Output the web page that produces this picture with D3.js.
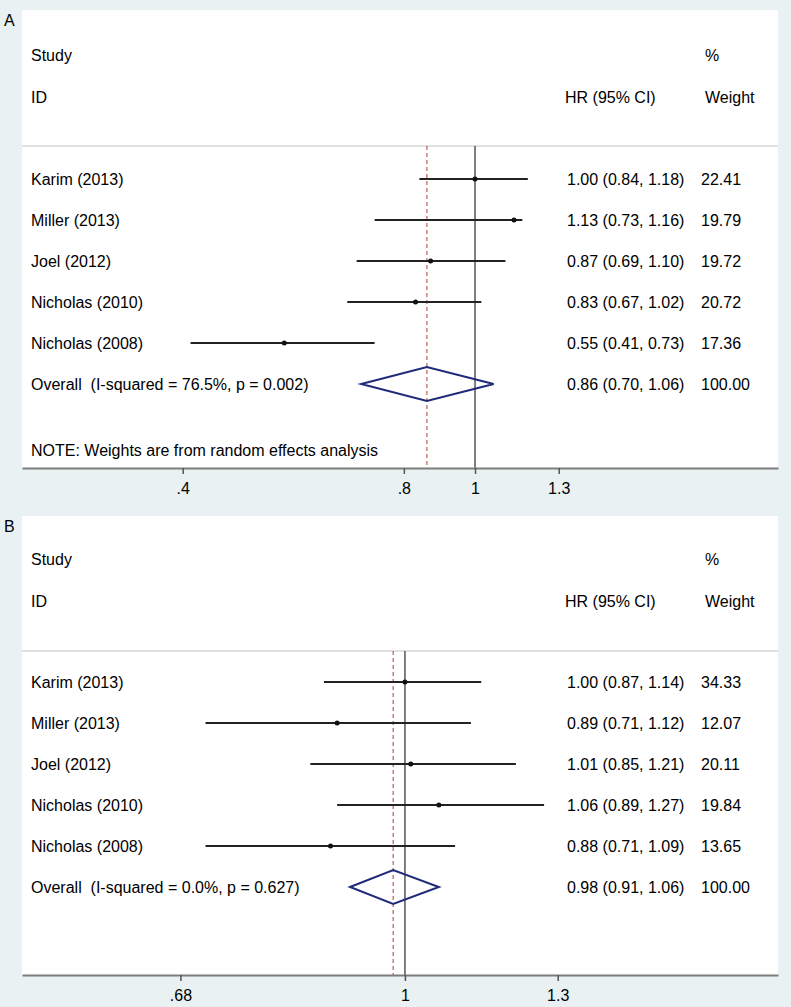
<!DOCTYPE html>
<html>
<head>
<meta charset="utf-8">
<script src="https://cdn.jsdelivr.net/npm/d3@7"></script>
<style>
  body { margin: 0; background: #e9f1f3; }
  svg text { font-family: "Liberation Sans", Arial, sans-serif; font-size: 16px; fill: #000; white-space: pre; }
</style>
</head>
<body>
<div class="chart"></div>
<script>
/* study labels, shared by both panels */
const studies = ["Karim (2013)", "Miller (2013)", "Joel (2012)", "Nicholas (2010)", "Nicholas (2008)"];

/* panel A values */
const hrA = [1.00, 1.13, 0.87, 0.83, 0.55];
const lowA = [0.84, 0.73, 0.69, 0.67, 0.41];
const highA = [1.18, 1.16, 1.10, 1.02, 0.73];
const weightA = ["22.41", "19.79", "19.72", "20.72", "17.36"];
const overallA = [0.86, 0.70, 1.06];
const overallLabelA = "Overall  (I-squared = 76.5%, p = 0.002)";
const ticksA = [0.4, 0.8, 1, 1.3];
const extentA = [0.2417, 2.585];

/* panel B values */
const hrB = [1.00, 0.89, 1.01, 1.06, 0.88];
const lowB = [0.87, 0.71, 0.85, 0.89, 0.71];
const highB = [1.14, 1.12, 1.21, 1.27, 1.09];
const weightB = ["34.33", "12.07", "20.11", "19.84", "13.65"];
const overallB = [0.98, 0.91, 1.06];
const overallLabelB = "Overall  (I-squared = 0.0%, p = 0.627)";
const ticksB = [0.68, 1, 1.3];
const extentB = [0.518, 1.898];

const width = 791;
const height = 1007;
const left = 22, right = 778;
const colHR = 567, colW = 701;

const svg = d3.select(".chart").append("svg")
  .attr("width", width)
  .attr("height", height);

svg.append("rect")
  .attr("width", width)
  .attr("height", height)
  .attr("fill", "#e9f1f3");

const fmt = v => (v < 1 ? String(v).replace(/^0/, "") : String(v));
const fmtCI = (e, l, h) => `${e.toFixed(2)} (${l.toFixed(2)}, ${h.toFixed(2)})`;

function drawPanel(p) {
  const x = d3.scaleLog().domain(p.extent).range([left, right]);
  const g = svg.append("g");

  /* white plot region */
  g.append("rect")
    .attr("x", left).attr("y", p.top)
    .attr("width", right - left).attr("height", p.axisY - p.top)
    .attr("fill", "white");

  /* panel letter */
  g.append("text").attr("x", 4).attr("y", p.top + 10)
    .attr("dominant-baseline", "central").text(p.letter);

  /* header */
  const head = [
    [31, p.studyY, "Study"], [31, p.idY, "ID"],
    [705, p.studyY, "%"], [565, p.idY, "HR (95% CI)"], [705, p.idY, "Weight"]
  ];
  g.selectAll("text.head").data(head).join("text")
    .attr("class", "head")
    .attr("x", d => d[0]).attr("y", d => d[1])
    .attr("dominant-baseline", "central")
    .text(d => d[2]);

  g.append("line")
    .attr("x1", left).attr("x2", right)
    .attr("y1", p.sepY).attr("y2", p.sepY)
    .attr("stroke", "#d6d6d6").attr("stroke-width", 1.5);

  /* null line and overall line */
  g.append("line")
    .attr("x1", x(1)).attr("x2", x(1))
    .attr("y1", p.sepY).attr("y2", p.axisY)
    .attr("stroke", "#555").attr("stroke-width", 1.5);
  g.append("line")
    .attr("x1", x(p.overall[0])).attr("x2", x(p.overall[0]))
    .attr("y1", p.sepY).attr("y2", p.axisY)
    .attr("stroke", "#b5605a").attr("stroke-width", 1.2)
    .attr("stroke-dasharray", "4,3");

  const rows = studies.map((s, i) => ({
    name: s, hr: p.hr[i], lo: p.low[i], hi: p.high[i], w: p.weight[i],
    y: p.row0 + i * p.step
  }));

  /* confidence intervals */
  g.selectAll("line.ci").data(rows).join("line")
    .attr("class", "ci")
    .attr("x1", d => x(d.lo)).attr("x2", d => x(d.hi))
    .attr("y1", d => d.y).attr("y2", d => d.y)
    .attr("stroke", "#222").attr("stroke-width", 2);

  g.selectAll("circle.pt").data(rows).join("circle")
    .attr("class", "pt")
    .attr("cx", d => x(d.hr)).attr("cy", d => d.y)
    .attr("r", 2.5).attr("fill", "#111");

  /* row text */
  g.selectAll("text.name").data(rows).join("text")
    .attr("class", "name")
    .attr("x", 31).attr("y", d => d.y)
    .attr("dominant-baseline", "central").text(d => d.name);
  g.selectAll("text.hr").data(rows).join("text")
    .attr("class", "hr")
    .attr("x", colHR).attr("y", d => d.y)
    .attr("dominant-baseline", "central").text(d => fmtCI(d.hr, d.lo, d.hi));
  g.selectAll("text.w").data(rows).join("text")
    .attr("class", "w")
    .attr("x", colW).attr("y", d => d.y)
    .attr("dominant-baseline", "central").text(d => d.w);

  /* overall diamond */
  const oy = p.row0 + studies.length * p.step;
  const [e, l, h] = p.overall;
  g.append("path")
    .attr("d", `M${x(l)},${oy} L${x(e)},${oy - 17} L${x(h)},${oy} L${x(e)},${oy + 17} Z`)
    .attr("fill", "none").attr("stroke", "#1f2a78").attr("stroke-width", 2);
  g.append("text").attr("x", 31).attr("y", oy)
    .attr("dominant-baseline", "central").text(p.overallLabel);
  g.append("text").attr("x", colHR).attr("y", oy)
    .attr("dominant-baseline", "central").text(fmtCI(e, l, h));
  g.append("text").attr("x", colW).attr("y", oy)
    .attr("dominant-baseline", "central").text("100.00");

  if (p.note) {
    g.append("text").attr("x", 31).attr("y", p.noteY)
      .attr("dominant-baseline", "central").text(p.note);
  }

  /* x axis */
  const axis = g.append("g")
    .attr("transform", `translate(0,${p.axisY})`)
    .call(d3.axisBottom(x).tickValues(p.ticks).tickFormat(fmt).tickSize(6).tickSizeOuter(0));
  axis.select(".domain").attr("stroke", "#7d7d7d").attr("stroke-width", 2);
  axis.selectAll(".tick line").attr("stroke", "#555").attr("stroke-width", 1.5);
  axis.selectAll(".tick text")
    .attr("y", 20).attr("dy", 0)
    .attr("dominant-baseline", "central")
    .style("font-size", "16px").attr("fill", "#000");
}

drawPanel({
  letter: "A", top: 10, studyY: 55, idY: 97, sepY: 146, row0: 179, step: 41,
  noteY: 450, axisY: 468, extent: extentA, ticks: ticksA,
  hr: hrA, low: lowA, high: highA, weight: weightA,
  overall: overallA, overallLabel: overallLabelA,
  note: "NOTE: Weights are from random effects analysis"
});

drawPanel({
  letter: "B", top: 516, studyY: 559, idY: 601, sepY: 651, row0: 682, step: 41,
  axisY: 975, extent: extentB, ticks: ticksB,
  hr: hrB, low: lowB, high: highB, weight: weightB,
  overall: overallB, overallLabel: overallLabelB
});
</script>
</body>
</html>
